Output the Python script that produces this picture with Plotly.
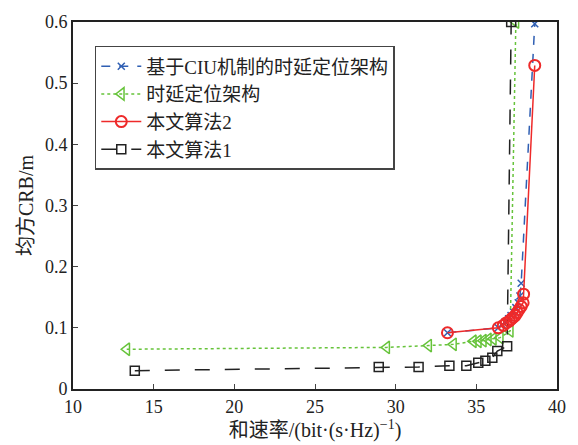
import plotly.graph_objects as go

# 基于CIU机制的时延定位架构 (blue)
blue_x = [33.21, 36.36, 36.6, 36.8, 37.0, 37.15, 37.3, 37.45, 37.6, 37.7, 37.78, 38.62]
blue_y = [0.092, 0.100, 0.105, 0.110, 0.115, 0.120, 0.126, 0.133, 0.141, 0.152, 0.173, 0.597]

# 时延定位架构 (green)
green_x = [13.33, 29.44, 32.04, 33.58, 34.81, 35.12, 35.43, 35.74, 36.05, 36.48, 37.1, 37.45]
green_y = [0.065, 0.068, 0.071, 0.073, 0.078, 0.078, 0.079, 0.081, 0.082, 0.084, 0.095, 0.600]

# 本文算法2 (red)
red_x = [33.21, 36.36, 36.67, 36.85, 37.04, 37.16, 37.28, 37.41, 37.53, 37.65, 37.78, 37.9, 37.93, 38.62]
red_y = [0.092, 0.100, 0.104, 0.108, 0.111, 0.114, 0.117, 0.120, 0.125, 0.130, 0.135, 0.141, 0.155, 0.529]

# 本文算法1 (black)
black_x = [13.83, 28.95, 31.42, 33.33, 34.38, 35.12, 35.56, 35.99, 36.3, 36.91, 37.16]
black_y = [0.030, 0.036, 0.036, 0.038, 0.038, 0.043, 0.046, 0.051, 0.062, 0.070, 0.600]

x_ticks = [10, 15, 20, 25, 30, 35, 40]
y_ticks = [0, 0.1, 0.2, 0.3, 0.4, 0.5, 0.6]
y_ticklabels = ["0", "0.1", "0.2", "0.3", "0.4", "0.5", "0.6"]

fig = go.Figure()
fig.add_trace(go.Scatter(
    x=blue_x, y=blue_y, mode="lines+markers", name="基于CIU机制的时延定位架构",
    line=dict(color="#2f5fb3", width=1.5, dash="dash"),
    marker=dict(symbol="x-thin-open", size=7, line=dict(color="#2f5fb3", width=1.5)),
    legendrank=1))
fig.add_trace(go.Scatter(
    x=green_x, y=green_y, mode="lines+markers", name="时延定位架构",
    line=dict(color="#66c33a", width=1.5, dash="dot"),
    marker=dict(symbol="triangle-left-open", size=11, color="#66c33a", line=dict(width=1.5)),
    legendrank=2))
fig.add_trace(go.Scatter(
    x=black_x, y=black_y, mode="lines+markers", name="本文算法1",
    line=dict(color="#222222", width=1.5, dash="longdash"),
    marker=dict(symbol="square-open", size=9, color="#222222", line=dict(width=1.5)),
    legendrank=4))
fig.add_trace(go.Scatter(
    x=red_x, y=red_y, mode="lines+markers", name="本文算法2",
    line=dict(color="#ee2a2a", width=1.5),
    marker=dict(symbol="circle-open", size=11, color="#ee2a2a", line=dict(width=2)),
    legendrank=3))

font_fam = "Liberation Serif, Noto Sans CJK SC"
fig.update_layout(
    width=578, height=445,
    margin=dict(l=73, r=19, t=13, b=53),
    paper_bgcolor="white", plot_bgcolor="white",
    font=dict(family=font_fam, size=19, color="#222222"),
    showlegend=True,
    legend=dict(x=0.045, y=0.935, xanchor="left", yanchor="top",
                bgcolor="white", bordercolor="#444444", borderwidth=1.5,
                font=dict(family=font_fam, size=19), tracegroupgap=0,
                itemwidth=40),
)
fig.update_xaxes(
    range=[10, 40], tickvals=x_ticks, ticks="inside", ticklen=5,
    showline=True, linecolor="#222222", linewidth=2, mirror=True,
    showgrid=False, zeroline=False,
    title=dict(text="和速率/(bit·(s·Hz)<sup>−1</sup>)", standoff=2,
               font=dict(family=font_fam, size=20)),
    tickfont=dict(family="Liberation Serif", size=18))
fig.update_yaxes(
    range=[0, 0.6], tickvals=y_ticks, ticktext=y_ticklabels, ticks="inside", ticklen=5,
    showline=True, linecolor="#222222", linewidth=2, mirror=True,
    showgrid=False, zeroline=False,
    title=dict(text="均方CRB/m", standoff=6, font=dict(family=font_fam, size=20)),
    tickfont=dict(family="Liberation Serif", size=18))

fig.write_html("out.html")
